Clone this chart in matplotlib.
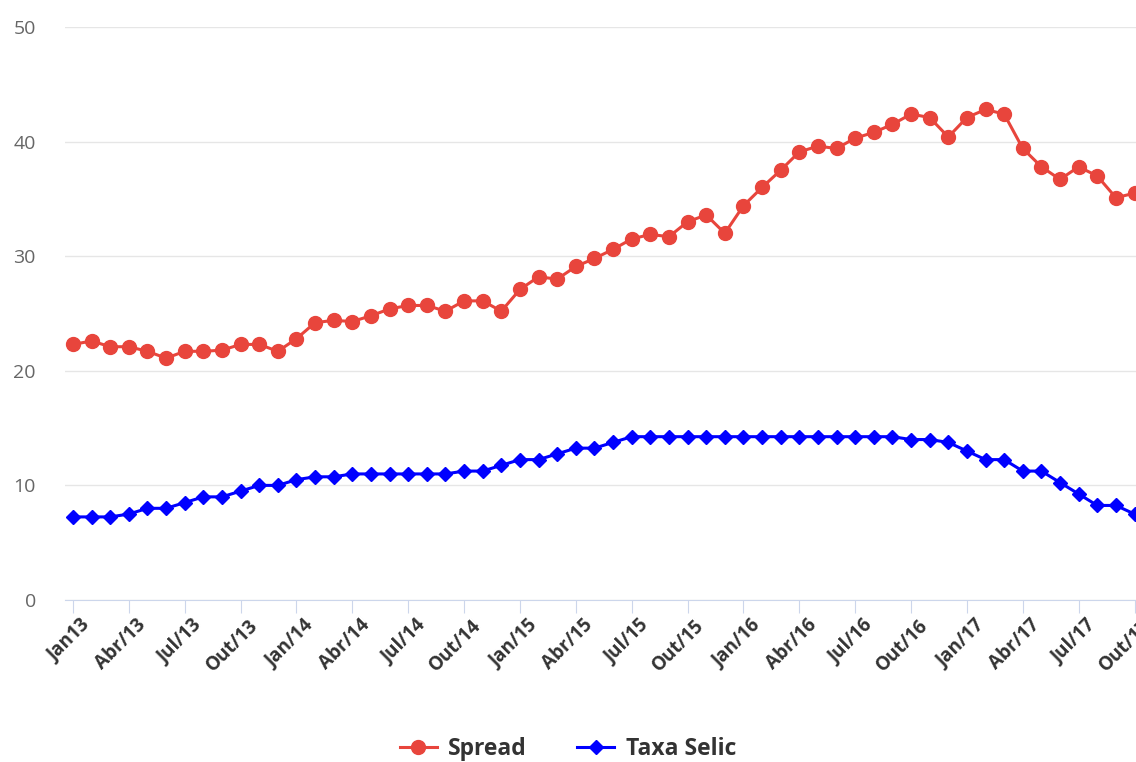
import matplotlib.pyplot as plt
import matplotlib.transforms as mtransforms

plt.rcParams['font.family'] = ['Open Sans', 'DejaVu Sans']

# monthly, Jan/13 .. Oct/17
spread = [22.3, 22.6, 22.1, 22.1, 21.7, 21.1, 21.7, 21.7, 21.8, 22.3, 22.3, 21.7,
          22.8, 24.2, 24.4, 24.3, 24.8, 25.4, 25.7, 25.7, 25.2, 26.1, 26.1, 25.2,
          27.1, 28.2, 28.0, 29.1, 29.8, 30.6, 31.5, 31.9, 31.7, 33.0, 33.6, 32.0,
          34.4, 36.0, 37.5, 39.1, 39.6, 39.4, 40.3, 40.8, 41.5, 42.4, 42.1, 40.4,
          42.1, 42.8, 42.4, 39.4, 37.8, 36.7, 37.8, 37.0, 35.1, 35.5]
selic = [7.25, 7.25, 7.25, 7.5, 8.0, 8.0, 8.5, 9.0, 9.0, 9.5, 10.0, 10.0,
         10.5, 10.75, 10.75, 11.0, 11.0, 11.0, 11.0, 11.0, 11.0, 11.25, 11.25, 11.75,
         12.25, 12.25, 12.75, 13.25, 13.25, 13.75, 14.25, 14.25, 14.25, 14.25, 14.25, 14.25,
         14.25, 14.25, 14.25, 14.25, 14.25, 14.25, 14.25, 14.25, 14.25, 14.0, 14.0, 13.75,
         13.0, 12.25, 12.25, 11.25, 11.25, 10.25, 9.25, 8.25, 8.25, 7.5]
tick_labels = ['Jan13', 'Abr/13', 'Jul/13', 'Out/13', 'Jan/14', 'Abr/14', 'Jul/14', 'Out/14',
               'Jan/15', 'Abr/15', 'Jul/15', 'Out/15', 'Jan/16', 'Abr/16', 'Jul/16', 'Out/16',
               'Jan/17', 'Abr/17', 'Jul/17', 'Out/17']

x = list(range(len(spread)))

fig = plt.figure(figsize=(11.36, 7.62), dpi=100)
ax = fig.add_axes([0.0572, 0.2126, 0.9428, 0.752])

ax.plot(x, spread, color='#e8453c', linewidth=2.2, marker='o', markersize=10,
        label='Spread', zorder=3)
ax.plot(x, selic, color='#0000ff', linewidth=2.2, marker='D', markersize=7.5,
        label='Taxa Selic', zorder=3)

ax.set_ylim(0, 50)
ax.set_xlim(-0.43, 57.08)
ax.set_yticks([0, 10, 20, 30, 40, 50])
ax.grid(axis='y', color='#e6e6e6', linewidth=1)
ax.set_axisbelow(True)

for side in ['top', 'right', 'left']:
    ax.spines[side].set_visible(False)
ax.spines['bottom'].set_color('#ccd6eb')

ax.set_xticks(range(0, len(spread), 3))
ax.set_xticklabels(tick_labels, rotation=45, ha='right', va='top',
                   rotation_mode='anchor', fontsize=13.5, fontweight='bold', color='#333333')
ax.tick_params(axis='x', length=9, color='#ccd6eb', pad=2)
ax.tick_params(axis='y', length=0, pad=21, labelsize=14, labelcolor='#666666')
shift = mtransforms.ScaledTranslation(7 / 100, 0, fig.dpi_scale_trans)
for lbl in ax.get_xticklabels():
    lbl.set_transform(lbl.get_transform() + shift)

fig.legend(loc='center', bbox_to_anchor=(0.5, 1 - 749 / 762), ncol=2, frameon=False,
           prop={'size': 16.5, 'weight': 'bold'}, labelcolor='#333333',
           handlelength=1.6, handletextpad=0.5, columnspacing=2.2)

fig.savefig('out.png', dpi=100)
